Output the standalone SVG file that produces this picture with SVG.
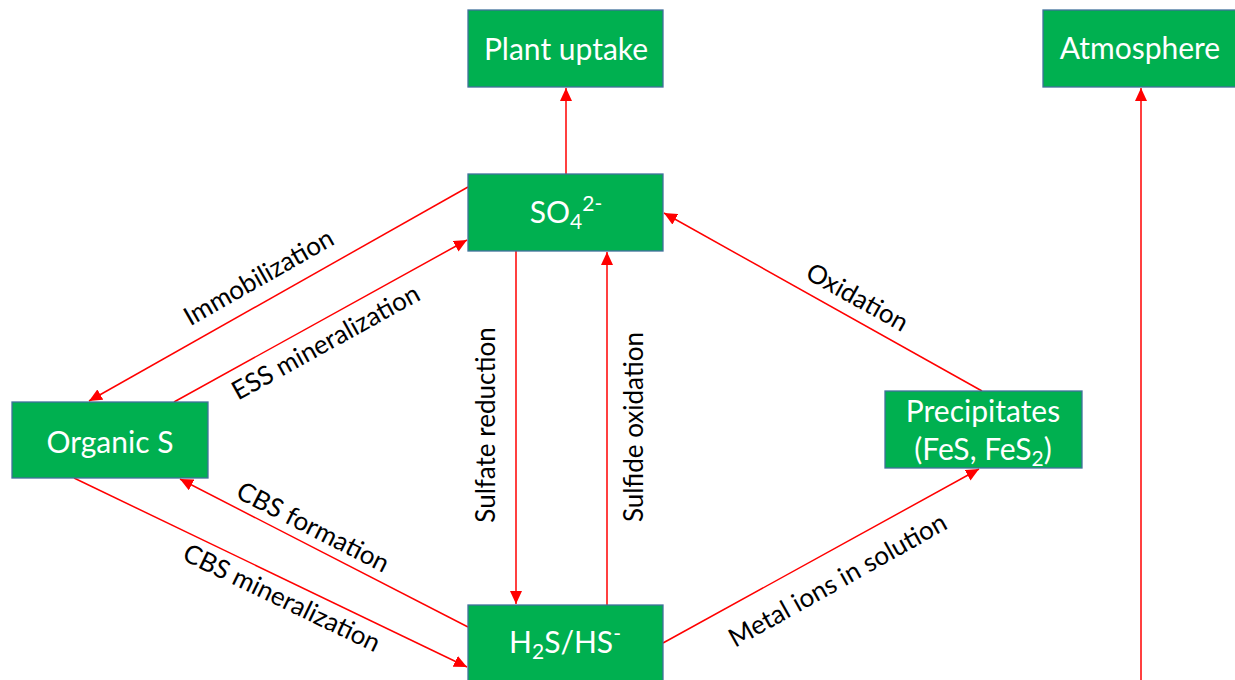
<svg xmlns="http://www.w3.org/2000/svg" width="1235" height="680" viewBox="0 0 1235 680">
<style>
.box{fill:#00B050;stroke:#41719C;stroke-width:1.3}
.nt{font-family:Lato,"Liberation Sans",sans-serif;font-size:30px;fill:#fff;text-anchor:middle}
.lb{font-family:Lato,"Liberation Sans",sans-serif;font-size:26px;fill:#000;text-anchor:middle}
.ed{stroke:#FF0000;stroke-width:1.5;fill:none;marker-end:url(#ah)}
</style>
<defs>
<marker id="ah" markerUnits="userSpaceOnUse" markerWidth="14" markerHeight="12" refX="13" refY="6" orient="auto">
<path d="M0,0 L13,6 L0,12 Z" fill="#FF0000"/>
</marker>
</defs>
<rect width="1235" height="680" fill="#fff"/>
<g id="connectors">
<line class="ed" x1="566" y1="174" x2="566" y2="88"/>
<line class="ed" x1="1141" y1="680" x2="1141" y2="88"/>
<line class="ed" x1="468" y1="187" x2="89" y2="401"/>
<line class="ed" x1="174" y1="402" x2="467" y2="240"/>
<line class="ed" x1="516" y1="251" x2="516" y2="604"/>
<line class="ed" x1="607" y1="605" x2="607" y2="252"/>
<line class="ed" x1="982" y1="391" x2="664" y2="213"/>
<line class="ed" x1="663" y1="643" x2="979" y2="469"/>
<line class="ed" x1="468" y1="627" x2="180" y2="479"/>
<line class="ed" x1="74" y1="478" x2="467" y2="667"/>
</g>
<g id="labels">
<text class="lb" transform="translate(263,285) rotate(-29.6)">Immobilization</text>
<text class="lb" transform="translate(330,350) rotate(-28.9)">ESS mineralization</text>
<text class="lb" transform="translate(495,425) rotate(-90)">Sulfate reduction</text>
<text class="lb" transform="translate(643,427) rotate(-90)">Sulfide oxidation</text>
<text class="lb" transform="translate(853,305) rotate(29.2)">Oxidation</text>
<text class="lb" transform="translate(842,588) rotate(-29.3)">Metal ions in solution</text>
<text class="lb" transform="translate(309,535) rotate(27)">CBS formation</text>
<text class="lb" transform="translate(278,606) rotate(25.7)">CBS mineralization</text>
</g>
<g id="plant-uptake">
<rect class="box" x="468" y="10" width="195" height="77"/>
<text class="nt" x="566" y="60">Plant uptake</text>
</g>
<g id="atmosphere">
<rect class="box" x="1043" y="10" width="195" height="77"/>
<text class="nt" x="1140" y="59">Atmosphere</text>
</g>
<g id="so4">
<rect class="box" x="468" y="174" width="195" height="77"/>
<text class="nt" x="566" y="223">SO<tspan font-size="21" dy="6">4</tspan><tspan font-size="21" dy="-18">2-</tspan></text>
</g>
<g id="organic-s">
<rect class="box" x="12" y="402" width="196" height="76"/>
<text class="nt" x="110" y="453">Organic S</text>
</g>
<g id="h2s">
<rect class="box" x="468" y="605" width="195" height="77"/>
<text class="nt" x="565" y="653">H<tspan font-size="21" dy="6">2</tspan><tspan dy="-6">S/HS</tspan><tspan font-size="21" dy="-12">-</tspan></text>
</g>
<g id="precipitates">
<rect class="box" x="885" y="391" width="197" height="77"/>
<text class="nt" x="983" y="422">Precipitates</text>
<text class="nt" x="983" y="460">(FeS, FeS<tspan font-size="21" dy="6">2</tspan><tspan dy="-6">)</tspan></text>
</g>
</svg>
